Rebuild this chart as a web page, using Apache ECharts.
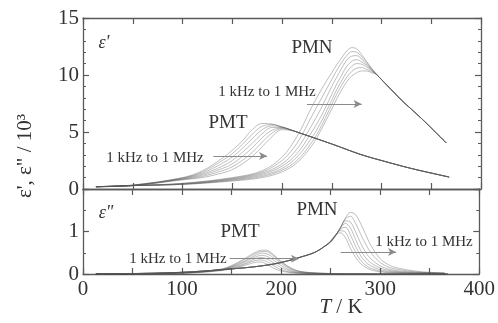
<!DOCTYPE html>
<html>
<head>
<meta charset="utf-8">
<script src="https://cdn.jsdelivr.net/npm/echarts@6/dist/echarts.min.js"></script>
<style>
  html, body { margin: 0; padding: 0; background: #fff; }
  #chart { width: 498px; height: 323px; }
</style>
</head>
<body>
<div id="chart"></div>
<script>
// frequencies, 1 kHz ... 1 MHz
const freqs = ['1 kHz', '3 kHz', '10 kHz', '30 kHz', '100 kHz', '300 kHz', '1 MHz']

// ε' of PMT (top panel)
const tPmtReal = [13, 50, 100, 120, 140, 150, 160, 170, 180, 190, 200, 210, 220, 250, 280, 300, 330, 368]
const pmtRealTail = [4.85, 3.95, 3.0, 2.5, 1.8, 1.05]
const pmtReal = [
    [0.2, 0.35, 1.0, 1.6, 2.7, 3.4, 4.2, 5.2, 5.75, 5.7, 5.45, 5.15],
    [0.2, 0.34, 0.97, 1.5, 2.5, 3.1, 3.9, 4.8, 5.5, 5.65, 5.45, 5.15],
    [0.2, 0.33, 0.94, 1.4, 2.25, 2.8, 3.55, 4.4, 5.2, 5.55, 5.42, 5.15],
    [0.2, 0.32, 0.9, 1.3, 2.0, 2.5, 3.2, 4.0, 4.85, 5.4, 5.4, 5.15],
    [0.2, 0.31, 0.87, 1.2, 1.8, 2.2, 2.85, 3.6, 4.5, 5.15, 5.35, 5.15],
    [0.2, 0.3, 0.84, 1.1, 1.6, 1.95, 2.5, 3.2, 4.1, 4.9, 5.3, 5.14],
    [0.2, 0.3, 0.8, 1.0, 1.4, 1.7, 2.2, 2.85, 3.7, 4.6, 5.2, 5.12]
]

// ε' of PMN (top panel)
const tPmnReal = [13, 50, 100, 150, 180, 200, 215, 230, 240, 250, 255, 260, 265, 270, 275, 280, 285, 290,
    295, 300, 310, 320, 330, 340, 350, 365]
const pmnRealTail = [10.05, 9.6, 8.7, 7.8, 7.0, 6.2, 5.35, 4.05]
const pmnReal = [
    [0.2, 0.3, 0.5, 1.0, 1.6, 2.8, 4.6, 7.2, 8.8, 10.2, 10.9, 11.5, 12.1, 12.4, 12.3, 11.8, 11.2, 10.6],
    [0.2, 0.3, 0.48, 0.95, 1.5, 2.5, 4.0, 6.4, 8.0, 9.6, 10.4, 11.1, 11.7, 12.05, 12.0, 11.6, 11.1, 10.55],
    [0.2, 0.3, 0.46, 0.9, 1.4, 2.2, 3.5, 5.6, 7.2, 9.0, 9.8, 10.6, 11.3, 11.65, 11.7, 11.4, 10.95, 10.5],
    [0.2, 0.3, 0.44, 0.85, 1.3, 2.0, 3.1, 5.0, 6.5, 8.3, 9.2, 10.0, 10.75, 11.2, 11.35, 11.15, 10.85, 10.45],
    [0.2, 0.3, 0.42, 0.8, 1.2, 1.8, 2.8, 4.5, 6.0, 7.8, 8.7, 9.5, 10.25, 10.75, 11.0, 10.95, 10.7, 10.4],
    [0.2, 0.3, 0.41, 0.75, 1.1, 1.65, 2.5, 4.1, 5.6, 7.4, 8.3, 9.1, 9.8, 10.3, 10.6, 10.65, 10.5, 10.3],
    [0.2, 0.3, 0.4, 0.7, 1.0, 1.5, 2.3, 3.8, 5.3, 7.0, 7.9, 8.7, 9.4, 9.9, 10.2, 10.35, 10.35, 10.2]
]

// ε'' of PMN (bottom panel)
const tPmnImag = [13, 50, 100, 150, 180, 200, 220, 235, 245, 250, 255, 260, 265, 270, 275, 280, 285, 290,
    300, 310, 320, 335, 350, 365]
const pmnImagHead = [0.0, 0.01, 0.04, 0.12, 0.19, 0.27, 0.4, 0.52, 0.67]
const pmnImag = [
    [0.78, 0.92, 0.97, 0.85, 0.6, 0.4, 0.25, 0.16, 0.1, 0.05, 0.03, 0.02, 0.01, 0.01, 0.0],
    [0.77, 0.92, 1.02, 0.98, 0.75, 0.52, 0.33, 0.21, 0.14, 0.07, 0.04, 0.03, 0.02, 0.01, 0.01],
    [0.77, 0.92, 1.06, 1.1, 0.92, 0.66, 0.44, 0.29, 0.2, 0.1, 0.06, 0.04, 0.02, 0.02, 0.01],
    [0.76, 0.91, 1.08, 1.19, 1.08, 0.82, 0.57, 0.39, 0.27, 0.14, 0.08, 0.05, 0.03, 0.02, 0.01],
    [0.76, 0.91, 1.09, 1.25, 1.22, 1.0, 0.74, 0.52, 0.37, 0.19, 0.11, 0.07, 0.04, 0.03, 0.02],
    [0.75, 0.9, 1.1, 1.3, 1.36, 1.2, 0.95, 0.72, 0.52, 0.27, 0.15, 0.1, 0.05, 0.03, 0.02],
    [0.75, 0.9, 1.1, 1.32, 1.45, 1.4, 1.2, 0.95, 0.7, 0.36, 0.2, 0.13, 0.07, 0.04, 0.03]
]

// ε'' of PMT (bottom panel)
const tPmtImag = [13, 50, 100, 120, 140, 150, 160, 170, 175, 180, 185, 190, 195, 200, 210, 220, 240, 260, 300, 368]
const pmtImag = [
    [0.0, 0.005, 0.02, 0.04, 0.08, 0.12, 0.18, 0.25, 0.28, 0.28, 0.24, 0.17, 0.11, 0.07, 0.03, 0.015, 0.005, 0.0, 0.0, 0.0],
    [0.0, 0.005, 0.02, 0.045, 0.09, 0.13, 0.2, 0.29, 0.32, 0.33, 0.3, 0.23, 0.16, 0.1, 0.04, 0.02, 0.007, 0.0, 0.0, 0.0],
    [0.0, 0.005, 0.022, 0.05, 0.095, 0.145, 0.22, 0.32, 0.37, 0.39, 0.36, 0.3, 0.22, 0.15, 0.06, 0.025, 0.01, 0.003, 0.0, 0.0],
    [0.0, 0.005, 0.024, 0.05, 0.1, 0.16, 0.25, 0.36, 0.41, 0.44, 0.42, 0.36, 0.28, 0.2, 0.08, 0.035, 0.012, 0.004, 0.0, 0.0],
    [0.0, 0.005, 0.026, 0.055, 0.105, 0.17, 0.27, 0.39, 0.45, 0.49, 0.48, 0.42, 0.34, 0.25, 0.11, 0.045, 0.015, 0.005, 0.0, 0.0],
    [0.0, 0.005, 0.028, 0.058, 0.11, 0.185, 0.3, 0.43, 0.49, 0.53, 0.53, 0.47, 0.38, 0.28, 0.13, 0.055, 0.018, 0.006, 0.0, 0.0],
    [0.0, 0.005, 0.03, 0.06, 0.12, 0.2, 0.32, 0.46, 0.52, 0.56, 0.56, 0.5, 0.4, 0.3, 0.14, 0.06, 0.02, 0.01, 0.0, 0.0]
]

const xTicks = [0, 100, 200, 300, 400]
const topTicks = [0, 5, 10, 15]
const bottomTicks = [0, 1]

const serif = '"Liberation Serif", "DejaVu Serif", serif'
const ink = '#333'
const axisColor = '#5a5a5a'

function zip(ts, vs) {
    return ts.map(function (t, i) { return [t, vs[i]] })
}

function arrow(x1, x2, y) {
    return {
        silent: true,
        symbol: ['none', 'arrow'],
        symbolSize: [6, 8],
        label: { show: false },
        lineStyle: { color: '#8a8a8a', width: 1, type: 'solid' },
        data: [[{ coord: [x1, y] }, { coord: [x2, y] }]]
    }
}

function makeSeries(name, ts, list, xi, yi, markLine) {
    return list.map(function (vals, k) {
        let s = {
            name: name + ' ' + freqs[k],
            type: 'line',
            xAxisIndex: xi,
            yAxisIndex: yi,
            data: zip(ts, vals),
            smooth: 0.35,
            showSymbol: false,
            silent: true,
            lineStyle: { color: 'rgba(85,85,85,0.42)', width: 0.9 }
        }
        if (k == 0 && markLine) s.markLine = markLine
        return s
    })
}

function xAxisDef(grid, pos, labels) {
    return {
        type: 'value', gridIndex: grid, position: pos, min: 0, max: 400, interval: 100,
        axisLine: { show: true, onZero: false, lineStyle: { color: axisColor, width: 1.3 } },
        axisTick: { show: true, inside: true, length: 6, lineStyle: { color: axisColor, width: 1.2 } },
        minorTick: { show: true, splitNumber: 2, length: 6, lineStyle: { color: axisColor, width: 1.2 } },
        splitLine: { show: false },
        axisLabel: {
            show: labels, margin: 5, fontFamily: serif, fontSize: 21, color: ink,
            formatter: function (v) { return xTicks.indexOf(v) >= 0 ? String(v) : '' }
        }
    }
}

function yAxisDef(grid, pos, max, interval, minorSplit, ticks, labels) {
    return {
        type: 'value', gridIndex: grid, position: pos, min: 0, max: max, interval: interval,
        axisLine: { show: true, onZero: false, lineStyle: { color: axisColor, width: 1.3 } },
        axisTick: { show: true, inside: true, length: 6, lineStyle: { color: axisColor, width: 1.2 } },
        minorTick: { show: true, splitNumber: minorSplit, length: 3, lineStyle: { color: axisColor, width: 1 } },
        splitLine: { show: false },
        axisLabel: {
            show: labels, margin: 4, fontFamily: serif, fontSize: 21, color: ink,
            formatter: function (v) { return ticks.indexOf(v) >= 0 ? String(v) : '' }
        }
    }
}

function label(text, x, y, size, italic, extra) {
    return Object.assign({
        type: 'text', x: x, y: y, silent: true,
        style: {
            text: text, fontFamily: serif, fontSize: size, fill: ink,
            fontStyle: italic ? 'italic' : 'normal',
            textAlign: 'center', textVerticalAlign: 'middle'
        }
    }, extra || {})
}

let chart = echarts.init(document.getElementById('chart'), null, { renderer: 'canvas' })

let series = [].concat(
    makeSeries('PMT ε\'', tPmtReal, pmtReal.map(function (h) { return h.concat(pmtRealTail) }), 0, 0, arrow(131, 185, 2.9)),
    makeSeries('PMN ε\'', tPmnReal, pmnReal.map(function (h) { return h.concat(pmnRealTail) }), 0, 0, arrow(225, 280, 7.45)),
    makeSeries('PMT ε"', tPmtImag, pmtImag, 2, 2, arrow(148, 218, 0.36)),
    makeSeries('PMN ε"', tPmnImag, pmnImag.map(function (t) { return pmnImagHead.concat(t) }), 2, 2, arrow(260, 316, 0.52))
)

let option = {
    animation: false,
    backgroundColor: '#fff',
    grid: [
        { left: 83, right: 17, top: 18, height: 171 },
        { left: 83, right: 17, top: 189, height: 85 }
    ],
    xAxis: [
        xAxisDef(0, 'bottom', false),
        xAxisDef(0, 'top', false),
        xAxisDef(1, 'bottom', true),
        xAxisDef(1, 'top', false)
    ],
    yAxis: [
        yAxisDef(0, 'left', 15, 5, 5, topTicks, true),
        yAxisDef(0, 'right', 15, 5, 5, topTicks, false),
        yAxisDef(1, 'left', 2, 1, 2, bottomTicks, true),
        yAxisDef(1, 'right', 2, 1, 2, bottomTicks, false)
    ],
    series: series,
    graphic: [
        label('ε\'', 104, 43, 18, true),
        label('ε"', 106, 213, 18, true),
        label('PMN', 312, 48, 19),
        label('1 kHz to 1 MHz', 267, 92, 15),
        label('PMT', 228, 123, 19),
        label('1 kHz to 1 MHz', 155, 158, 15),
        label('PMN', 317, 210, 19),
        label('PMT', 240, 232, 19),
        label('1 kHz to 1 MHz', 178, 259, 15),
        label('1 kHz to 1 MHz', 424, 242, 15),
        label('ε\', ε" / 10³', 25, 156, 21, false, { rotation: Math.PI / 2 }),
        {
            type: 'text', x: 341, y: 307, silent: true,
            style: {
                text: '{i|T} / K', fontFamily: serif, fontSize: 21, fill: ink,
                textAlign: 'center', textVerticalAlign: 'middle',
                rich: { i: { fontFamily: serif, fontSize: 21, fontStyle: 'italic', fill: ink } }
            }
        }
    ]
}

chart.setOption(option)
</script>
</body>
</html>
